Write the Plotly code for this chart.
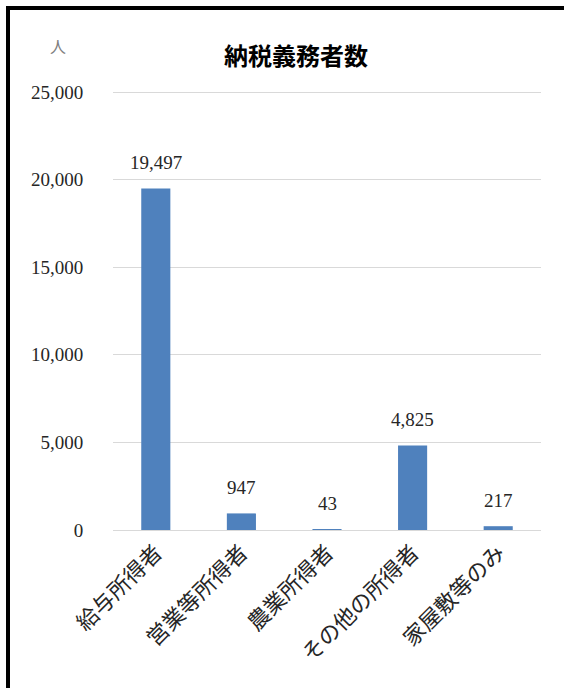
import plotly.graph_objects as go

categories = ["給与所得者", "営業等所得者", "農業所得者", "その他の所得者", "家屋敷等のみ"]
values = [19497, 947, 43, 4825, 217]
y_ticks = [0, 5000, 10000, 15000, 20000, 25000]
y_tick_labels = ["0", "5,000", "10,000", "15,000", "20,000", "25,000"]

W, H = 564, 688
L, R, T, B = 113, 23, 91, 158
pw, ph = W - L - R, H - T - B

num_font = "Liberation Serif, Noto Sans CJK JP, serif"
jp_font = "Noto Sans CJK JP, sans-serif"

fig = go.Figure()
fig.add_trace(go.Bar(
    x=categories, y=values,
    marker=dict(color="#4f81bd", line=dict(width=0)),
    hoverinfo="skip",
))

for c, v in zip(categories, values):
    fig.add_annotation(
        x=c, y=v, xref="x", yref="y",
        text=f"{v:,}", showarrow=False,
        yanchor="bottom", yshift=13,
        font=dict(family=num_font, size=19, color="#262626"),
    )

fig.add_annotation(
    x=(58 - L) / pw, y=(H - B - 46) / ph, xref="paper", yref="paper",
    text="人", showarrow=False, xanchor="center", yanchor="middle",
    font=dict(family=jp_font, size=16, color="#808080"),
)

# outer black frame (left and top visible)
fig.add_shape(
    type="rect", xref="paper", yref="paper",
    x0=(8 - L) / pw, x1=(620 - L) / pw,
    y0=(H - B - 760) / ph, y1=(H - B - 8) / ph,
    line=dict(color="black", width=4), fillcolor="rgba(0,0,0,0)",
    layer="above",
)

fig.update_layout(
    width=W, height=H,
    margin=dict(l=L, r=R, t=T, b=B),
    paper_bgcolor="white", plot_bgcolor="white",
    showlegend=False,
    bargap=0.66,
    title=dict(
        text="<b>納税義務者数</b>", x=296 / W, xanchor="center",
        y=1 - 57 / H, yanchor="middle", yref="container",
        font=dict(family=jp_font, size=24, color="black"),
    ),
    xaxis=dict(
        tickangle=-45,
        tickfont=dict(family=jp_font, size=22, color="#262626"),
        showline=True, linecolor="#d9d9d9", linewidth=1,
        showgrid=False, ticks="",
    ),
    yaxis=dict(
        range=[0, 25060], tickvals=y_ticks, ticktext=y_tick_labels,
        tickfont=dict(family=num_font, size=19, color="#262626"),
        showgrid=True, gridcolor="#d9d9d9", gridwidth=1,
        zeroline=False, showline=False,
        ticks="outside", ticklen=25, tickcolor="rgba(0,0,0,0)",
    ),
)

fig.write_html("out.html")
